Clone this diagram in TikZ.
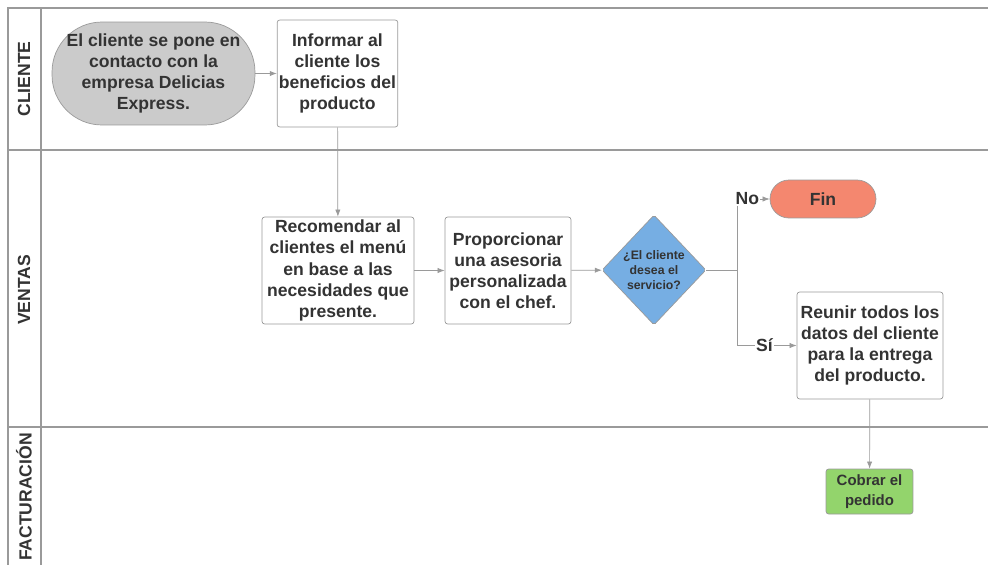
\documentclass[tikz,border=0pt]{standalone}
\usepackage{fontspec}
\setmainfont{Liberation Sans}
\usepackage{tikz}
\usetikzlibrary{shapes.geometric, arrows.meta}

\definecolor{lane}{HTML}{9A9A9A}
\definecolor{txt}{HTML}{333333}
\definecolor{startfill}{HTML}{CBCBCB}
\definecolor{finfill}{HTML}{F4876F}
\definecolor{decfill}{HTML}{76AEE3}
\definecolor{paidfill}{HTML}{93D46C}

\tikzset{
  box/.style={draw=lane, rounded corners=1.5pt, fill=white, text=txt, align=center,
    font=\fontsize{10}{12}\selectfont\bfseries, inner sep=1pt},
  flow/.style={draw=lane, -{Latex[length=4pt,width=3pt]}},
  lbl/.style={fill=white, text=txt, font=\fontsize{10}{11}\selectfont\bfseries, inner sep=0.5pt},
  lanetitle/.style={rotate=90, text=txt, font=\fontsize{10}{11}\selectfont\bfseries}
}

\begin{document}
\begin{tikzpicture}[x=0.02cm, y=-0.02cm]
    \useasboundingbox (0,0) rectangle (988,565);

    % lanes
    \draw[lane, line width=0.6pt] (988,8) -- (8,8) -- (8,565);
    \draw[lane, line width=0.6pt] (41,8) -- (41,565);
    \draw[lane, line width=0.6pt] (8,150) -- (988,150);
    \draw[lane, line width=0.6pt] (8,427) -- (988,427);
    \path 
    (24,79) node[lanetitle] (cliente) {CLIENTE}
    (24,290) node[lanetitle] (ventas) {VENTAS}
    (24,497) node[lanetitle] (facturacion) {FACTURACIÓN};

    % steps
    \path 
    (153.5,73.5) node[box, fill=startfill, rounded corners=1cm, minimum width=4.06cm, minimum height=2.06cm] (start)
        {El cliente se pone en\\contacto con la\\empresa Delicias\\Express.}
    (337.5,73.5) node[box, minimum width=2.38cm, minimum height=2.14cm] (informar)
        {Informar al\\cliente los\\beneficios del\\producto}
    (338,270.5) node[box, minimum width=3.04cm, minimum height=2.14cm] (recomendar)
        {Recomendar al\\clientes el menú\\en base a las\\necesidades que\\presente.}
    (508,270.5) node[box, minimum width=2.52cm, minimum height=2.14cm] (asesoria)
        {Proporcionar\\una asesoria\\personalizada\\con el chef.}
    (654,270) node[box, diamond, fill=decfill, rounded corners=1pt, inner sep=0pt,
        minimum width=2.08cm, minimum height=2.2cm, font=\fontsize{7}{8.5}\selectfont\bfseries] (desea)
        {¿El cliente\\desea el\\servicio?}
    (823,199) node[box, fill=finfill, rounded corners=0.38cm, minimum width=2.12cm, minimum height=0.76cm] (fin)
        {Fin}
    (870,345.5) node[box, minimum width=2.92cm, minimum height=2.14cm] (reunir)
        {Reunir todos los\\datos del cliente\\para la entrega\\del producto.}
    (869.5,491.5) node[box, fill=paidfill, minimum width=1.74cm, minimum height=0.9cm,
        font=\fontsize{8.5}{11}\selectfont\bfseries] (cobrar)
        {Cobrar el\\pedido};
    \coordinate (split) at (737,270);

    \path 
    (start) edge[flow] (informar)
    (informar) edge[flow] (recomendar)
    (recomendar) edge[flow] (asesoria)
    (asesoria) edge[flow] (desea)
    (reunir) edge[flow] (cobrar);
    \draw[lane] (desea.east) -- (split);
    \draw[flow] (split) |- node[lbl, pos=0.66] {No} (fin.west);
    \draw[flow] (split) |- node[lbl, pos=0.73] {Sí} (reunir.west);
    \end{tikzpicture}
\end{document}
